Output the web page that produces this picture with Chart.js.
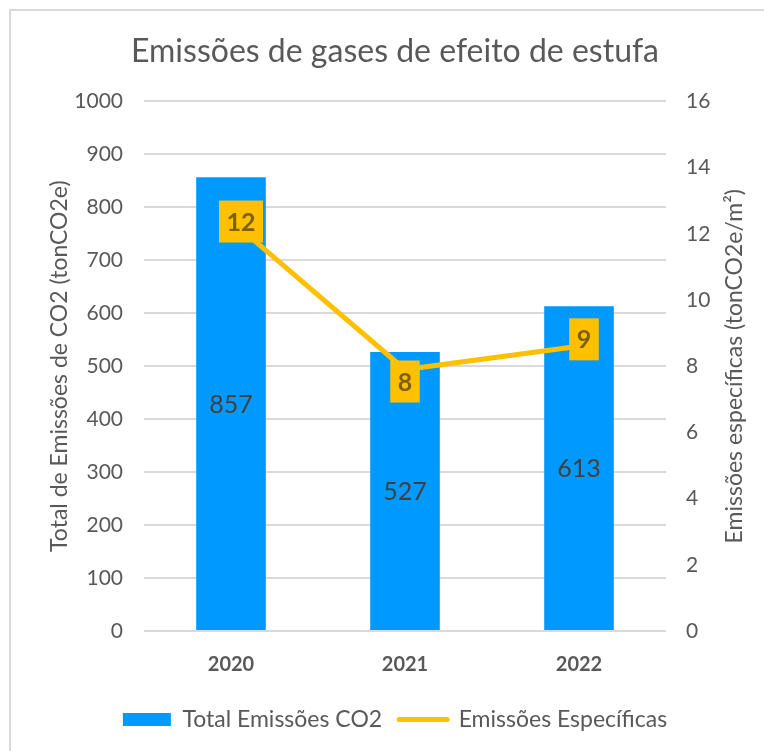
<!DOCTYPE html>
<html lang="pt">
<head>
    <meta charset="UTF-8">
    <title>Emissões de gases de efeito de estufa</title>
    <script src="https://cdn.jsdelivr.net/npm/chart.js"></script>
    <style>
        body { margin: 0; background: #ffffff; }
        #wrap { position: relative; width: 764px; height: 751px; }
        #frame {
            position: absolute; left: 9px; top: 9px; right: 0; bottom: 0;
            border-left: 2px solid #d9d9d9;
            border-top: 2px solid #d9d9d9;
            pointer-events: none;
        }
    </style>
</head>
<body>
    <div id="wrap">
        <canvas id="chart" width="764" height="751"></canvas>
        <div id="frame"></div>
    </div>

    <script>
        const years = ['2020', '2021', '2022'];
        const totalEmissions = [857, 527, 613];          // tonCO2e
        const specificEmissions = [12.4, 7.9, 8.6];      // tonCO2e/m2
        const leftTicks = [0, 100, 200, 300, 400, 500, 600, 700, 800, 900, 1000];
        const rightTicks = [0, 2, 4, 6, 8, 10, 12, 14, 16];

        const FONT = 'Lato, "Open Sans", sans-serif';
        const grey = '#595959';
        const rightTitle = 'Emissões específicas (tonCO2e/m²)';

        // value labels: centred text in the bars, yellow boxes on the line
        const valueLabels = {
            id: 'valueLabels',
            afterDatasetsDraw(chart, args, opts) {
                const ctx = chart.ctx;
                ctx.save();
                ctx.textAlign = 'center';
                ctx.textBaseline = 'middle';

                chart.getDatasetMeta(1).data.forEach((bar, i) => {
                    const mid = (bar.y + bar.base) / 2;
                    ctx.font = '25px ' + FONT;
                    ctx.fillStyle = '#404040';
                    ctx.fillText(totalEmissions[i], bar.x, mid + 1);
                });

                chart.getDatasetMeta(0).data.forEach((pt, i) => {
                    const txt = String(Math.round(specificEmissions[i]));
                    const [dx, dy] = opts.shift[i];
                    ctx.font = 'bold 25px ' + FONT;
                    const w = ctx.measureText(txt).width + 15;
                    const h = 42;
                    const cx = pt.x + dx, cy = pt.y + dy;
                    ctx.fillStyle = '#ffc000';
                    ctx.fillRect(cx - w / 2, cy - h / 2, w, h);
                    ctx.fillStyle = '#7f6000';
                    ctx.fillText(txt, cx, cy + 1);
                });
                ctx.restore();
            }
        };

        // right axis title reads bottom-to-top like the left one
        const rightAxisTitle = {
            id: 'rightAxisTitle',
            afterDraw(chart) {
                const ctx = chart.ctx;
                const a = chart.chartArea;
                ctx.save();
                ctx.translate(735, (a.top + a.bottom) / 2);
                ctx.rotate(-Math.PI / 2);
                ctx.font = '23px ' + FONT;
                ctx.fillStyle = grey;
                ctx.textAlign = 'center';
                ctx.textBaseline = 'middle';
                ctx.fillText(rightTitle, 0, 0);
                ctx.restore();
            }
        };

        new Chart(document.getElementById('chart'), {
            data: {
                labels: years,
                datasets: [
                    {
                        type: 'line',
                        label: 'Emissões Específicas',
                        data: specificEmissions,
                        yAxisID: 'y1',
                        borderColor: '#ffc000',
                        backgroundColor: '#ffc000',
                        borderWidth: 5,
                        pointRadius: 0,
                        tension: 0,
                        order: 0
                    },
                    {
                        type: 'bar',
                        label: 'Total Emissões CO2',
                        data: totalEmissions,
                        yAxisID: 'y',
                        backgroundColor: '#0099ff',
                        barPercentage: 0.4,
                        categoryPercentage: 1,
                        order: 1
                    }
                ]
            },
            options: {
                responsive: false,
                animation: false,
                layout: { padding: { left: 26, right: 0, top: 0, bottom: 10 } },
                plugins: {
                    title: {
                        display: true,
                        text: 'Emissões de gases de efeito de estufa',
                        color: grey,
                        font: { family: FONT, size: 32, weight: 'normal' },
                        padding: { top: 32, bottom: 31 }
                    },
                    legend: {
                        position: 'bottom',
                        labels: {
                            color: grey,
                            font: { family: FONT, size: 23 },
                            usePointStyle: true,
                            pointStyleWidth: 48,
                            boxHeight: 13,
                            padding: 17,
                            generateLabels(chart) {
                                return [
                                    {
                                        text: 'Total Emissões CO2', datasetIndex: 1,
                                        pointStyle: 'rect', fillStyle: '#0099ff',
                                        strokeStyle: '#0099ff', lineWidth: 0, fontColor: grey
                                    },
                                    {
                                        text: 'Emissões Específicas', datasetIndex: 0,
                                        pointStyle: 'line', fillStyle: '#ffc000',
                                        strokeStyle: '#ffc000', lineWidth: 5, lineCap: 'round', fontColor: grey
                                    }
                                ];
                            }
                        }
                    },
                    tooltip: { enabled: false },
                    valueLabels: { shift: [[10, 1], [0, 12], [5, -7]] }
                },
                scales: {
                    x: {
                        grid: { display: false },
                        border: { display: false },
                        ticks: {
                            color: grey,
                            padding: 14,
                            font: { family: FONT, size: 20, weight: 'bold' }
                        }
                    },
                    y: {
                        position: 'left',
                        min: 0,
                        max: leftTicks[leftTicks.length - 1],
                        afterBuildTicks: s => { s.ticks = leftTicks.map(v => ({ value: v })); },
                        afterFit: s => { s.width = 118; },
                        grid: { color: '#d9d9d9', lineWidth: 2, drawTicks: false },
                        border: { display: false },
                        ticks: {
                            color: grey,
                            padding: 21,
                            font: { family: FONT, size: 21 },
                            callback: v => String(v)
                        },
                        title: {
                            display: true,
                            text: 'Total de Emissões de CO2 (tonCO2e)',
                            color: grey,
                            font: { family: FONT, size: 23 },
                            padding: { top: 20, bottom: 0 }
                        }
                    },
                    y1: {
                        position: 'right',
                        min: 0,
                        max: rightTicks[rightTicks.length - 1],
                        afterBuildTicks: s => { s.ticks = rightTicks.map(v => ({ value: v })); },
                        afterFit: s => { s.width = 98; },
                        grid: { display: false, drawTicks: false },
                        border: { display: false },
                        ticks: {
                            color: grey,
                            padding: 20,
                            font: { family: FONT, size: 21 },
                            callback: v => String(v)
                        }
                    }
                }
            },
            plugins: [valueLabels, rightAxisTitle]
        });
    </script>
</body>
</html>
